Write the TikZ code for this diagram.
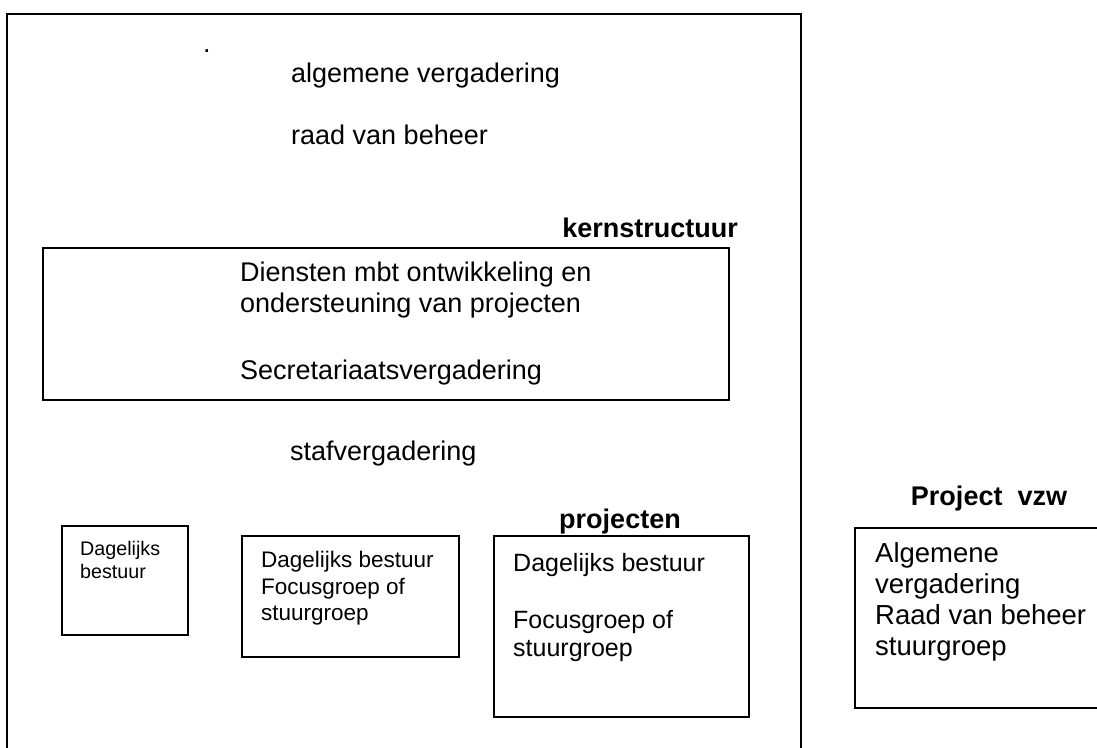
\documentclass[tikz,border=0pt]{standalone}
\usepackage{fontspec}
\setmainfont{Liberation Sans}
\usetikzlibrary{positioning}
\newcommand\fsz[1]{\fontsize{#1}{#1}\selectfont}
\tikzset{
  % kaders
  kader/.style={draw=black,line width=1.8pt,anchor=north west,inner sep=0pt},
  % teksten
  lbl/.style={anchor=base west,inner sep=0pt,font=\fsz{27}},
  kop/.style={anchor=base,inner sep=0pt,font=\fsz{27}\bfseries},
}

\begin{document}
\begin{tikzpicture}[x=1pt,y=-1pt]
\useasboundingbox (0,0) rectangle (1097,747);
\clip (0,0) rectangle (1097,747);
  % vereniging
  \node[kader,minimum width=794pt,minimum height=780pt] (vzw) at (6,13) {};
  \node[lbl] (punt) at (203,52) {.};
  \node[lbl] (av) at (291,82) {algemene vergadering};
  \node[lbl] (rvb) at (291,144) {raad van beheer};
  % kernstructuur
  \node[kop,anchor=base east] (kernkop) at (738,237) {kernstructuur};
  \node[kader,minimum width=686pt,minimum height=152pt] (kern) at (42,247) {};
  \node[lbl] (dienst1) at (240,281) {Diensten mbt ontwikkeling en};
  \node[lbl] (dienst2) at (240,312) {ondersteuning van projecten};
  \node[lbl] (secr) at (240,379) {Secretariaatsvergadering};
  \node[lbl] (staf) at (290,460) {stafvergadering};
  % projecten
  \node[kader,minimum width=126pt,minimum height=109pt] (db) at (61,525) {};
  \node[lbl,font=\fsz{19.7}] (db1) at (80,555) {Dagelijks};
  \node[lbl,font=\fsz{19.7}] (db2) at (80,578) {bestuur};
  \node[kader,minimum width=217pt,minimum height=121pt] (fg) at (241,535) {};
  \node[lbl,font=\fsz{22.5}] (fg1) at (261,567) {Dagelijks bestuur};
  \node[lbl,font=\fsz{22.5}] (fg2) at (261,594) {Focusgroep of};
  \node[lbl,font=\fsz{22.5}] (fg3) at (261,620) {stuurgroep};
  \node[kop] (projkop) at (620,528) {projecten};
  \node[kader,minimum width=255pt,minimum height=181pt] (proj) at (493,535) {};
  \node[lbl,font=\fsz{25}] (pj1) at (513,571) {Dagelijks bestuur};
  \node[lbl,font=\fsz{25}] (pj2) at (513,628) {Focusgroep of};
  \node[lbl,font=\fsz{25}] (pj3) at (513,656) {stuurgroep};
  % project vzw
  \node[kop] (pvkop) at (989,505) {Project\ \ vzw};
  \node[kader,minimum width=260pt,minimum height=180pt] (pv) at (854,527) {};
  \node[lbl,font=\fsz{27.5}] (pv1) at (875,562) {Algemene};
  \node[lbl,font=\fsz{27.5}] (pv2) at (875,593) {vergadering};
  \node[lbl,font=\fsz{27.5}] (pv3) at (875,624) {Raad van beheer};
  \node[lbl,font=\fsz{27.5}] (pv4) at (875,655) {stuurgroep};
\end{tikzpicture}
\end{document}
